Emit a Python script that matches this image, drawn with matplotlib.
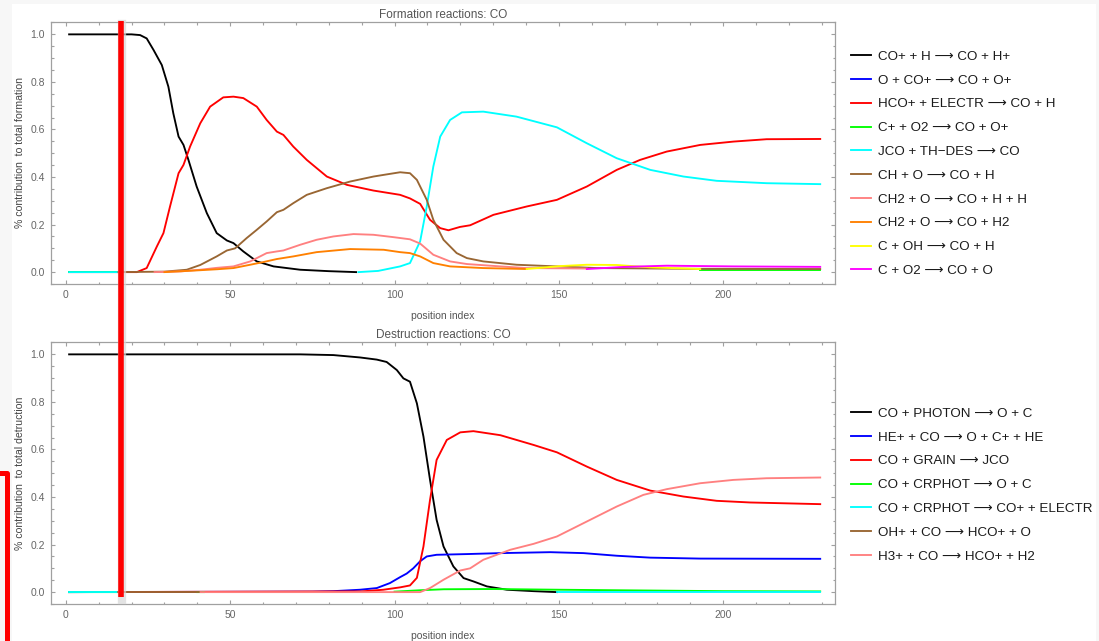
import numpy as np
import matplotlib
matplotlib.use("Agg")
import matplotlib.pyplot as plt
from matplotlib.lines import Line2D
from matplotlib.patches import Rectangle
from matplotlib.ticker import MultipleLocator

plt.rcParams['font.family'] = ['Liberation Sans', 'DejaVu Sans']

nan = np.nan
ARROW = "\u27f6"

# ---------------- Formation reactions ----------------
form_labels = [
    f"CO+ + H {ARROW} CO + H+",
    f"O + CO+ {ARROW} CO + O+",
    f"HCO+ + ELECTR {ARROW} CO + H",
    f"C+ + O2 {ARROW} CO + O+",
    f"JCO + TH\u2212DES {ARROW} CO",
    f"CH + O {ARROW} CO + H",
    f"CH2 + O {ARROW} CO + H + H",
    f"CH2 + O {ARROW} CO + H2",
    f"C + OH {ARROW} CO + H",
    f"C + O2 {ARROW} CO + O",
]

f_black_x = [1, 10, 20, 22.6, 24.6, 26.7, 29.2, 31.2, 32.7, 34.3, 35.8, 37.3, 39.8, 42.9, 45.9, 49, 51, 54, 58.1, 63.2, 71.3, 80, 88.3]
f_black_y = [1.0, 1.0, 1.0, 0.997, 0.983, 0.934, 0.871, 0.78, 0.668, 0.57, 0.535, 0.472, 0.36, 0.248, 0.164, 0.133, 0.122, 0.087, 0.045, 0.024, 0.01, 0.004, 0.0]

f_blue_x = [1, 16]
f_blue_y = [0.0, 0.0]

f_red_x = [1, 21.6, 24.6, 27.7, 29.7, 31.7, 34.3, 35.8, 37.8, 40.9, 43.9, 47.9, 51, 54, 58.1, 61.1, 64.2, 66.2, 69.2, 73.3, 79.4, 85.5, 93.6, 101.7, 104.7, 107.8, 110.8, 113.9, 116.4, 119.9, 123, 130.1, 140.2, 149.4, 158.5, 167.6, 174.7, 182.8, 193, 203.1, 213.2, 229.5]
f_red_y = [0, 0, 0.017, 0.108, 0.164, 0.276, 0.416, 0.451, 0.528, 0.626, 0.696, 0.735, 0.738, 0.732, 0.696, 0.64, 0.591, 0.577, 0.528, 0.472, 0.402, 0.367, 0.343, 0.325, 0.31, 0.287, 0.22, 0.185, 0.176, 0.19, 0.197, 0.241, 0.276, 0.304, 0.36, 0.43, 0.472, 0.507, 0.535, 0.549, 0.559, 0.56]

f_green_x = [1, 16, nan, 193, 229.5]
f_green_y = [0.0, 0.0, nan, 0.01, 0.01]

f_cyan_x = [1, 16, nan, 89, 95, 101.7, 104.7, 107.8, 109.8, 111.8, 113.9, 116.9, 120.5, 127, 137.1, 149.4, 158.5, 167.6, 177.8, 187.9, 198, 213.2, 229.5]
f_cyan_y = [0, 0, nan, 0, 0.005, 0.024, 0.038, 0.13, 0.276, 0.444, 0.57, 0.64, 0.672, 0.675, 0.654, 0.609, 0.542, 0.479, 0.43, 0.402, 0.384, 0.374, 0.37]

f_brown_x = [16, 30, 36.8, 40.9, 45.9, 49, 51.5, 55, 58.1, 61.1, 64.2, 66.2, 69.2, 73.3, 79.4, 86.5, 93.6, 96.7, 101.7, 104.7, 106.8, 109.8, 111.8, 114.9, 118.9, 122, 127, 137.1, 149.4, 161.6, 190, 229.5]
f_brown_y = [0, 0.002, 0.01, 0.03, 0.066, 0.091, 0.1, 0.143, 0.178, 0.213, 0.252, 0.262, 0.29, 0.325, 0.353, 0.381, 0.402, 0.409, 0.42, 0.416, 0.388, 0.304, 0.22, 0.136, 0.08, 0.059, 0.045, 0.031, 0.024, 0.017, 0.014, 0.013]

f_pink_x = [27, 35, 40.9, 46, 51, 56.1, 61.1, 64.2, 66.2, 71.3, 76.3, 81.4, 87.5, 93.6, 99.7, 104.7, 107.8, 111.8, 116.9, 122, 132.2, 140.2, 158.5]
f_pink_y = [0, 0.003, 0.01, 0.018, 0.024, 0.045, 0.08, 0.087, 0.091, 0.115, 0.136, 0.15, 0.16, 0.157, 0.147, 0.138, 0.12, 0.073, 0.045, 0.034, 0.024, 0.017, 0.015]

f_orange_x = [30, 40.9, 46, 51, 56.1, 60, 64.2, 69.2, 76.3, 86.5, 96.7, 101.7, 104.7, 107.8, 111.8, 116.9, 127, 140.2]
f_orange_y = [0, 0.008, 0.012, 0.017, 0.031, 0.042, 0.055, 0.066, 0.084, 0.097, 0.094, 0.084, 0.08, 0.066, 0.038, 0.024, 0.017, 0.013]

f_yellow_x = [140.2, 150, 158.5, 167.6, 177.8, 193]
f_yellow_y = [0.013, 0.025, 0.031, 0.03, 0.02, 0.013]

f_magenta_x = [158.5, 170, 182.8, 203.1, 229.5]
f_magenta_y = [0.013, 0.022, 0.027, 0.024, 0.022]

form_x = [f_black_x, f_blue_x, f_red_x, f_green_x, f_cyan_x, f_brown_x, f_pink_x, f_orange_x, f_yellow_x, f_magenta_x]
form_y = [f_black_y, f_blue_y, f_red_y, f_green_y, f_cyan_y, f_brown_y, f_pink_y, f_orange_y, f_yellow_y, f_magenta_y]
form_colors = ['#000000', '#0000ff', '#ff0000', '#00ff00', '#00ffff', '#996633', '#ff8080', '#ff8000', '#ffff00', '#ff00ff']

# ---------------- Destruction reactions ----------------
dest_labels = [
    f"CO + PHOTON {ARROW} O + C",
    f"HE+ + CO {ARROW} O + C+ + HE",
    f"CO + GRAIN {ARROW} JCO",
    f"CO + CRPHOT {ARROW} O + C",
    f"CO + CRPHOT {ARROW} CO+ + ELECTR",
    f"OH+ + CO {ARROW} HCO+ + O",
    f"H3+ + CO {ARROW} HCO+ + H2",
]

d_black_x = [1, 20, 50, 71.3, 81.4, 89.5, 94.6, 97.6, 100.7, 102.7, 104.7, 106.8, 108.8, 110.8, 112.8, 114.9, 117.9, 121, 124, 128.1, 134.2, 142.3, 149.4]
d_black_y = [1.0, 1.0, 1.0, 1.0, 0.997, 0.987, 0.978, 0.968, 0.934, 0.899, 0.885, 0.794, 0.654, 0.472, 0.304, 0.192, 0.108, 0.059, 0.045, 0.024, 0.01, 0.004, 0.0]

d_blue_x = [1, 75, 81.4, 89.5, 94.6, 98.6, 101.7, 103.7, 105.7, 107.8, 109.8, 112.8, 122, 132.2, 147.4, 157.5, 167.6, 177.8, 193, 229.5]
d_blue_y = [0, 0.002, 0.004, 0.01, 0.017, 0.038, 0.063, 0.078, 0.1, 0.13, 0.15, 0.157, 0.16, 0.164, 0.168, 0.164, 0.153, 0.145, 0.141, 0.14]

d_red_x = [1, 90, 96.6, 101.7, 104.7, 106.8, 108.8, 110.8, 112.8, 115.9, 120, 124, 132.2, 142.3, 149.4, 158.5, 167.6, 177.8, 187.9, 198, 208.2, 229.5]
d_red_y = [0, 0.003, 0.01, 0.02, 0.028, 0.06, 0.192, 0.388, 0.556, 0.64, 0.672, 0.677, 0.66, 0.619, 0.588, 0.528, 0.472, 0.427, 0.402, 0.384, 0.377, 0.37]

d_green_x = [1, 16, nan, 40, 42, nan, 100, 108, 115, 130, 150, 175, 200, 229.5]
d_green_y = [0, 0, nan, 0, 0, nan, 0.002, 0.008, 0.012, 0.013, 0.01, 0.007, 0.004, 0.003]

d_cyan_x = [1, 16, nan, 149.4, 229.5]
d_cyan_y = [0, 0, nan, 0.001, 0.001]

d_brown_x = [16, 41]
d_brown_y = [0, 0]

d_pink_x = [41, 100, 107.8, 110.8, 114.9, 120, 123, 127, 135.2, 142.3, 149.4, 158.5, 167.6, 175.7, 182.8, 193, 203.1, 213.2, 229.5]
d_pink_y = [0, 0, 0.0, 0.017, 0.052, 0.091, 0.1, 0.136, 0.178, 0.203, 0.234, 0.297, 0.36, 0.409, 0.433, 0.458, 0.472, 0.479, 0.482]

dest_x = [d_black_x, d_blue_x, d_red_x, d_green_x, d_cyan_x, d_brown_x, d_pink_x]
dest_y = [d_black_y, d_blue_y, d_red_y, d_green_y, d_cyan_y, d_brown_y, d_pink_y]
dest_colors = form_colors[:7]

x_ticks = [0, 50, 100, 150, 200]
y_ticks = [0.0, 0.2, 0.4, 0.6, 0.8, 1.0]

# ---------------- Figure ----------------
W, H = 1099, 641
fig = plt.figure(figsize=(W / 100, H / 100), dpi=100)
fig.patch.set_facecolor('#f7f7f7')
fig.add_artist(Rectangle((12 / W, 0), (1096 - 12) / W, 1 - 4 / H,
                         transform=fig.transFigure, facecolor='white',
                         edgecolor='none', zorder=-10))

frame_c = '#a0a0a0'
text_c = '#666666'


def style_axes(ax, title, ylabel):
    ax.set_xlim(-4.6, 234)
    ax.set_ylim(-0.05, 1.052)
    ax.set_xticks(x_ticks)
    ax.set_yticks(y_ticks)
    ax.set_yticklabels([f"{v:.1f}" for v in y_ticks])
    ax.xaxis.set_minor_locator(MultipleLocator(10))
    ax.yaxis.set_minor_locator(MultipleLocator(0.05))
    ax.tick_params(which='both', direction='in', top=True, right=True,
                   color=frame_c, labelcolor=text_c, labelsize=7.5, width=0.8)
    ax.tick_params(which='major', length=3.2, pad=4)
    ax.tick_params(which='minor', length=1.8)
    for s in ax.spines.values():
        s.set_color(frame_c)
        s.set_linewidth(0.9)
    ax.set_title(title, fontsize=8.5, color='#555555', pad=3)
    ax.set_xlabel('position index', fontsize=7.5, color='#555555', labelpad=8)
    ax.set_ylabel(ylabel, fontsize=7.6, color='#444444', labelpad=4)
    ax.set_facecolor('white')


ax1 = fig.add_axes([50.7 / W, 1 - 284 / H, (835 - 50.7) / W, (284 - 22) / H])
ax2 = fig.add_axes([50.7 / W, 1 - 604 / H, (835 - 50.7) / W, (604 - 342) / H])

h1 = []
for xs, ys, c, lab in zip(form_x, form_y, form_colors, form_labels):
    ln, = ax1.plot(xs, ys, color=c, lw=1.35, label=lab)
    h1.append(ln)
style_axes(ax1, 'Formation reactions: CO', '% contribution  to total formation')

h2 = []
for xs, ys, c, lab in zip(dest_x, dest_y, dest_colors, dest_labels):
    ln, = ax2.plot(xs, ys, color=c, lw=1.35, label=lab)
    h2.append(ln)
style_axes(ax2, 'Destruction reactions: CO', '% contribution  to total detruction')

leg_kw = dict(loc='upper left', frameon=False, fontsize=9.6, handlelength=1.5,
              handletextpad=0.55, labelspacing=0.86, borderpad=0, borderaxespad=0,
              labelcolor='#1a1a1a')
fig.legend(handles=h1, labels=form_labels, bbox_to_anchor=(851 / W, 1 - 50.5 / H), **leg_kw)
fig.legend(handles=h2, labels=dest_labels, bbox_to_anchor=(851 / W, 1 - 407.5 / H), **leg_kw)

# ---------------- red annotation marks ----------------
fig.add_artist(Line2D([122 / W, 122 / W], [1 - 24 / H, 1 - 600 / H], transform=fig.transFigure,
                      color='#d8d8d8', lw=6, alpha=0.7, zorder=20))
fig.add_artist(Line2D([120.5 / W, 120.5 / W], [1 - 21 / H, 1 - 597 / H], transform=fig.transFigure,
                      color='#ff0000', lw=4.0, solid_capstyle='butt', zorder=21))
fig.add_artist(Line2D([0, 7 / W, 7 / W], [1 - 473 / H, 1 - 473 / H, 0], transform=fig.transFigure,
                      color='#ff0000', lw=3.6, solid_joinstyle='round', zorder=21))

fig.savefig('out.png', dpi=100, facecolor=fig.get_facecolor())
